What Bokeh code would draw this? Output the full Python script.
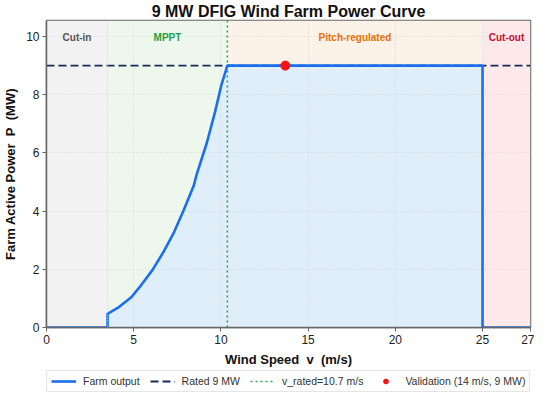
from bokeh.plotting import figure
from bokeh.layouts import column
from bokeh.models import Range1d, FixedTicker, Legend, LegendItem, Span, Label
from bokeh.embed import file_html
from bokeh.resources import INLINE

# ---- data ----
title = "9 MW DFIG Wind Farm Power Curve"
v_out = [0.0, 3.5, 3.5, 4.1, 4.86, 5.42, 6.08, 6.74, 7.31, 7.87, 8.44, 8.62,
         9.19, 9.66, 10.03, 10.37, 25.0, 25.0, 27.75]
p_out = [0.0, 0.0, 0.47, 0.68, 1.04, 1.45, 1.98, 2.63, 3.27, 4.04, 4.87, 5.28,
         6.34, 7.4, 8.34, 9.0, 9.0, 0.0, 0.0]
rated_power = 9.0
rated_speed_line = 10.37
validation_v = [13.69]
validation_p = [9.0]
region_names = ["Cut-in", "MPPT", "Pitch-regulated", "Cut-out"]
region_start = [0.0, 3.5, 10.37, 25.0]
region_end = [3.5, 10.37, 25.0, 27.75]
region_fill = ["#f2f2f2", "#eef7ec", "#fdf2e8", "#fde9e9"]
region_text_color = ["#555555", "#1e9e45", "#e8710a", "#c8102e"]
x_ticks = [0, 5, 10, 15, 20, 25, 27.75]
x_tick_labels = {27.75: "27"}
y_ticks = [0, 2, 4, 6, 8, 10]
x_max = 27.75
y_max = 10.55
legend_labels = ["Farm output", "Rated 9 MW", "v_rated=10.7 m/s", "Validation (14 m/s, 9 MW)"]

FONT = "Liberation Sans"
NB = "\u00a0\u00a0"

p = figure(width=534, height=369, output_backend="svg", toolbar_location=None,
           x_range=Range1d(0, x_max), y_range=Range1d(0, y_max),
           min_border_left=4, min_border_right=4, min_border_top=0, min_border_bottom=0)

p.title.text = title
p.title.align = "center"
p.title.text_font = FONT
p.title.text_font_size = "16px"
p.title.text_font_style = "bold"
p.title.text_color = "#111111"
p.title.offset = 0
p.title.standoff = 1

# regions
p.quad(left=region_start, right=region_end, bottom=0, top=y_max,
       fill_color=region_fill, line_color=None, level="underlay")

# fill under curve
p.varea(x=v_out, y1=[0] * len(v_out), y2=p_out, fill_color="#e0eefa", level="underlay")

# boundary dotted gray at cut-in
p.add_layout(Span(location=region_start[1], dimension="height", line_color="#cccccc",
                  line_dash="1 2", line_width=1))

STY_RATED = dict(line_color="#1b2a5a", line_width=1.8, line_dash="8 4")
STY_VR = dict(line_color="#2aa35a", line_width=1.6, line_dash="2 3")
STY_FARM = dict(line_color="#1a6ff0", line_width=2.6)
STY_VAL = dict(size=9, fill_color="#ff1010", line_color="#ff1010", marker="circle")

p.line(x=[0, x_max], y=[rated_power, rated_power], **STY_RATED)
p.line(x=[rated_speed_line, rated_speed_line], y=[0, y_max], **STY_VR)
p.line(x=v_out, y=p_out, **STY_FARM)
p.scatter(x=validation_v, y=validation_p, **STY_VAL)

# region labels
for name, s, e, c in zip(region_names, region_start, region_end, region_text_color):
    p.add_layout(Label(x=(s + e) / 2, y=9.95, text=name, text_align="center",
                       text_baseline="middle", text_font=FONT, text_font_size="10px",
                       text_font_style="bold", text_color=c))

# grid
p.grid.grid_line_color = "#d0d0d0"
p.grid.grid_line_dash = "1 2"
p.grid.grid_line_width = 0.8
p.grid.level = "underlay"

# axes
p.xaxis.ticker = FixedTicker(ticks=x_ticks)
p.xaxis.major_label_overrides = x_tick_labels
p.yaxis.ticker = FixedTicker(ticks=y_ticks)
p.xaxis.axis_label = "Wind Speed" + NB + "v" + NB + "(m/s)"
p.yaxis.axis_label = "Farm Active Power" + NB + "P" + NB + "(MW)"
for ax in (p.xaxis, p.yaxis):
    ax.axis_label_text_font = FONT
    ax.axis_label_text_font_size = "13px"
    ax.axis_label_text_font_style = "bold"
    ax.axis_label_text_color = "#111111"
    ax.axis_label_standoff = 5
    ax.major_label_text_font = FONT
    ax.major_label_text_font_size = "12px"
    ax.major_label_text_color = "#222222"
    ax.major_label_standoff = 3
    ax.major_tick_out = 4
    ax.major_tick_in = 0
    ax.minor_tick_line_color = None
    ax.axis_line_color = "#666666"
    ax.axis_line_width = 1.5
    ax.major_tick_line_color = "#666666"
p.outline_line_color = "#666666"
p.outline_line_width = 1.5
p.outline_line_alpha = 1.0

# legend strip below the plot (its renderers' data lie outside its view)
lg = figure(width=534, height=24, output_backend="svg", toolbar_location=None,
            x_range=Range1d(1000, 1001), y_range=Range1d(1000, 1001),
            x_axis_location=None, y_axis_location=None, min_border=0)
lg.grid.visible = False
lg.outline_line_color = None
l0 = lg.line(x=v_out, y=p_out, **STY_FARM)
l1 = lg.line(x=[0, x_max], y=[rated_power, rated_power], **STY_RATED)
l2 = lg.line(x=[rated_speed_line, rated_speed_line], y=[0, y_max], **STY_VR)
l3 = lg.scatter(x=validation_v, y=validation_p, **STY_VAL)

legend = Legend(items=[
    LegendItem(label=legend_labels[0], renderers=[l0]),
    LegendItem(label=legend_labels[1], renderers=[l1]),
    LegendItem(label=legend_labels[2], renderers=[l2]),
    LegendItem(label=legend_labels[3], renderers=[l3]),
], orientation="horizontal", location=(0, 1))
legend.label_text_font = FONT
legend.label_text_font_size = "10.5px"
legend.label_text_color = "#333333"
legend.glyph_width = 25
legend.glyph_height = 12
legend.label_standoff = 7
legend.spacing = 10
legend.padding = 4
legend.margin = 0
legend.border_line_color = "#cccccc"
legend.border_line_width = 1
legend.background_fill_color = "white"
lg.add_layout(legend, "center")

layout = column(p, lg, spacing=0)
open("out.html", "w").write(file_html(layout, INLINE))
